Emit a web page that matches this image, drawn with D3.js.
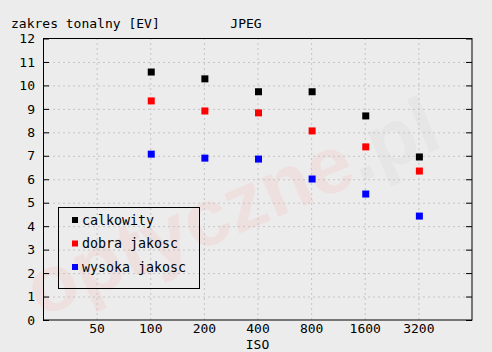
<!DOCTYPE html>
<html>
<head>
<meta charset="utf-8">
<script src="https://cdn.jsdelivr.net/npm/d3@7"></script>
<style>
  body { margin: 0; background: #ececec; }
  svg { display: block; }
  text { font-family: "DejaVu Sans Mono", "Liberation Mono", monospace; font-size: 13px; fill: #000; }
</style>
</head>
<body>
<svg id="drawing_region"></svg>
<script>
// data
const isoTicks = [50, 100, 200, 400, 800, 1600, 3200]
const isoValues = [100, 200, 400, 800, 1600, 3200]
const calkowity = [10.57, 10.28, 9.73, 9.73, 8.70, 6.95]
const dobraJakosc = [9.34, 8.91, 8.83, 8.06, 7.38, 6.35]
const wysokaJakosc = [7.07, 6.90, 6.86, 6.01, 5.37, 4.43]
const seriesNames = ['calkowity', 'dobra jakosc', 'wysoka jakosc']
const yTicks = d3.range(0, 13)

const W = 492, H = 352
const m = {left: 43, right: 20, top: 38.5, bottom: 32}

const svg = d3.select('#drawing_region').attr('width', W).attr('height', H)
svg.append('rect').attr('width', W).attr('height', H).attr('fill', '#ececec')

const x = d3.scaleLog().base(2).domain([25, 6400]).range([m.left, W - m.right])
const y = d3.scaleLinear().domain([0, 12]).range([H - m.bottom, m.top])

// watermark
const wm = svg.append('text')
  .attr('transform', 'translate(40,318) rotate(-23)')
  .style('font-family', '"Liberation Sans", Arial, sans-serif')
  .style('font-weight', 'bold')
  .style('font-size', '80px')
wm.append('tspan').text('optyczne').style('fill', '#efe0e0')
wm.append('tspan').text('.pl').style('fill', '#e6e6e6')

// grid
svg.append('g')
  .attr('transform', `translate(0,${H - m.bottom})`)
  .call(d3.axisBottom(x).tickValues(isoTicks).tickSize(-(H - m.top - m.bottom)).tickFormat(''))
  .call(g => g.select('.domain').remove())
  .call(g => g.selectAll('line').attr('stroke', '#c4c4c4').attr('stroke-dasharray', '2,3'))
svg.append('g')
  .attr('transform', `translate(${m.left},0)`)
  .call(d3.axisLeft(y).tickValues(yTicks.slice(1, -1)).tickSize(-(W - m.left - m.right)).tickFormat(''))
  .call(g => g.select('.domain').remove())
  .call(g => g.selectAll('line').attr('stroke', '#c4c4c4').attr('stroke-dasharray', '2,3'))

// axes
svg.append('g')
  .attr('transform', `translate(${m.left},0)`)
  .call(d3.axisLeft(y).tickValues(yTicks).tickSize(-6).tickPadding(8))
  .call(g => g.select('.domain').remove())
  .call(g => g.selectAll('text').style('font-size', '13px').style('font-family', '"DejaVu Sans Mono", monospace'))
svg.append('g')
  .attr('transform', `translate(${W - m.right},0)`)
  .call(d3.axisRight(y).tickValues(yTicks).tickSize(-6).tickFormat(''))
  .call(g => g.select('.domain').remove())
svg.append('g')
  .attr('transform', `translate(0,${H - m.bottom})`)
  .call(d3.axisBottom(x).tickValues(isoTicks).tickSize(0).tickPadding(4).tickFormat(d3.format('d')))
  .call(g => g.select('.domain').remove())
  .call(g => g.selectAll('text').style('font-size', '13px').style('font-family', '"DejaVu Sans Mono", monospace'))

svg.append('rect')
  .attr('x', m.left + 0.5).attr('y', m.top)
  .attr('width', W - m.left - m.right - 0.5).attr('height', H - m.top - m.bottom)
  .attr('fill', 'none').attr('stroke', '#000')

// labels
svg.append('text').attr('x', 11).attr('y', 28).text('zakres tonalny [EV]')
svg.append('text').attr('x', 246).attr('y', 28).attr('text-anchor', 'middle').text('JPEG')
svg.append('text').attr('x', (x(25) + x(6400)) / 2).attr('y', 349).attr('text-anchor', 'middle').text('ISO')

// points
const colors = ['#000000', '#ff0000', '#0000ff']
const series = [calkowity, dobraJakosc, wysokaJakosc]
const s = 7
series.forEach((vals, i) => {
  svg.append('g').selectAll('rect').data(vals).enter()
    .append('rect')
    .attr('x', (d, j) => x(isoValues[j]) - s / 2 + 1)
    .attr('y', d => y(d) - s / 2)
    .attr('width', s).attr('height', s)
    .attr('fill', colors[i])
})

// legend
const lg = svg.append('g')
lg.append('rect').attr('x', 58.5).attr('y', 207.5).attr('width', 141).attr('height', 81)
  .attr('fill', 'none').attr('stroke', '#000')
seriesNames.forEach((name, i) => {
  const cy = 220 + i * 23.5
  lg.append('rect').attr('x', 72).attr('y', cy - 3).attr('width', 6).attr('height', 6).attr('fill', colors[i])
  lg.append('text').attr('x', 82).attr('y', cy + 4.5).style('font-size', '13.3px').text(name)
})
</script>
</body>
</html>
